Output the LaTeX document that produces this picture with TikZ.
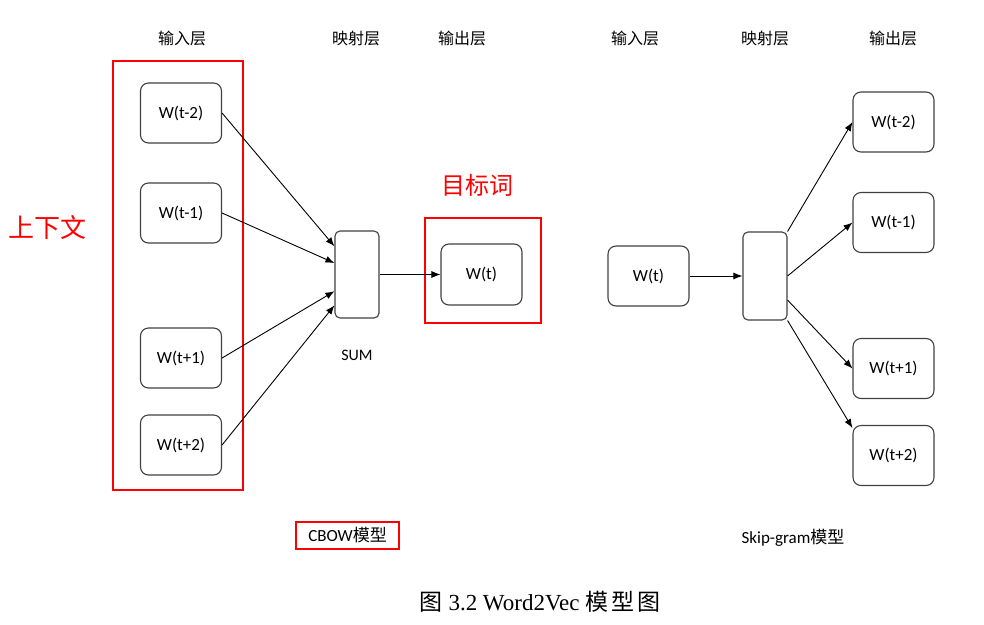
\documentclass[tikz,border=0pt]{standalone}
\usepackage{fontspec}
\setmainfont{Carlito}
\newfontfamily\cjk{Noto Sans CJK SC}
\newfontfamily\capfont{Liberation Serif}
\usetikzlibrary{positioning,calc,arrows.meta}

\begin{document}
\begin{tikzpicture}[x=1pt, y=-1pt,
  wordbox/.style={draw=black!75, line width=1.1pt, rounded corners=8pt,
    minimum width=81pt, minimum height=60pt, inner sep=0pt,
    font=\fontsize{17}{19}\selectfont},
  sumbox/.style={draw=black!75, line width=1.1pt, rounded corners=5pt,
    minimum width=44pt, minimum height=87pt, inner sep=0pt},
  redframe/.style={draw=red, line width=2.4pt},
  layer/.style={font=\cjk\fontsize{16}{18}\selectfont},
  conn/.style={-{Latex[length=9pt,width=7pt]}, line width=0.9pt},
  ]

  % === Cadre de l'image ===
  \useasboundingbox (0,0) rectangle (984,624);

  % === En-têtes des couches ===
  \node[layer] (inL)  at (182,38) {输入层};
  \node[layer] (mapL) at (356,38) {映射层};
  \node[layer] (outL) at (462,38) {输出层};
  \node[layer] (inR)  at (635,38) {输入层};
  \node[layer] (mapR) at (765,38) {映射层};
  \node[layer] (outR) at (893,38) {输出层};

  % === CBOW ===
  \node[wordbox] (c1) at (181,113) {W(t-2)};
  \node[wordbox] (c2) at (181,213) {W(t-1)};
  \node[wordbox] (c3) at (181,358) {W(t+1)};
  \node[wordbox] (c4) at (181,445) {W(t+2)};
  \node[sumbox]  (sumL) at (357,274.5) {};
  \node[font=\fontsize{16}{18}\selectfont] (sumTxt) at (357,355) {SUM};
  \node[wordbox, minimum height=61pt] (tgt) at (481.5,274.5) {W(t)};

  \draw[redframe] (113,61) rectangle (243,490); % contexte
  \draw[redframe] (425,218) rectangle (541,323); % mot cible
  \node[text=red, font=\cjk\fontsize{26}{28}\selectfont] (ctx) at (48,228) {上下文};
  \node[text=red, font=\cjk\fontsize{24}{26}\selectfont] (tgtTxt) at (477,185) {目标词};

  \draw[conn] (c1.east) -- ($(sumL.north west)!0.18!(sumL.south west)$);
  \draw[conn] (c2.east) -- ($(sumL.north west)!0.37!(sumL.south west)$);
  \draw[conn] (c3.east) -- ($(sumL.north west)!0.69!(sumL.south west)$);
  \draw[conn] (c4.east) -- ($(sumL.north west)!0.85!(sumL.south west)$);
  \draw[conn] (sumL.east) -- (tgt.west);

  % === Skip-gram ===
  \node[wordbox] (w0) at (648.5,276) {W(t)};
  \node[sumbox, minimum height=88pt] (mapBox) at (765,276) {};
  \node[wordbox] (s1) at (893.5,122) {W(t-2)};
  \node[wordbox] (s2) at (893.5,222.5) {W(t-1)};
  \node[wordbox] (s3) at (893.5,368.5) {W(t+1)};
  \node[wordbox] (s4) at (893.5,455.5) {W(t+2)};

  \draw[conn] (w0.east) -- (mapBox.west);
  \draw[conn] (mapBox.north east) -- (s1.west);
  \draw[conn] (mapBox.east) -- (s2.west);
  \draw[conn] ($(mapBox.north east)!0.77!(mapBox.south east)$) -- (s3.west);
  \draw[conn] (mapBox.south east) -- ($(s4.north west)!0.05!(s4.south west)$);

  % === Légendes ===
  \node[draw=red, line width=2pt, minimum width=103pt, minimum height=27pt,
    font=\fontsize{17}{19}\selectfont] (cbow) at (347.5,535.5) {CBOW{\cjk 模型}};
  \node[font=\fontsize{17}{19}\selectfont] (skip) at (793,538) {Skip-gram{\cjk 模型}};
  \node[font=\capfont\fontsize{23}{25}\selectfont] (cap) at (540,602)
    {{\cjk 图} 3.2 Word2Vec {\cjk 模\hspace{3pt}型\hspace{3pt}图}};

\end{tikzpicture}
\end{document}
